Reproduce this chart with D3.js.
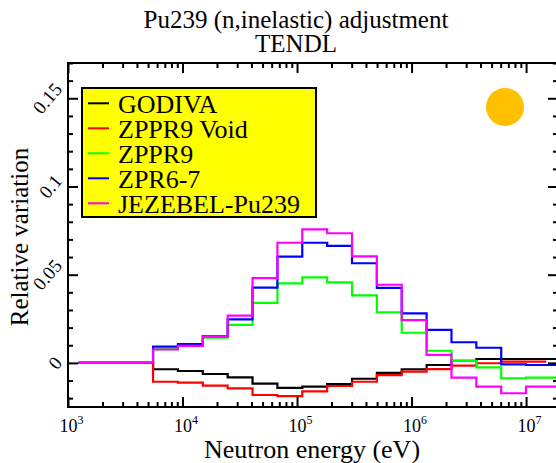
<!DOCTYPE html>
<html>
<head>
<meta charset="utf-8">
<script src="https://cdn.jsdelivr.net/npm/d3@7"></script>
<style>
  body { margin: 0; background: #fff; }
</style>
</head>
<body>
<div id="chart"></div>
<script>
// group boundaries (eV), 33-group lethargy grid, low to high
const bounds = [1234.1, 2034.7, 3354.6, 5530.8, 9118.8, 15034, 24788, 40868, 67379,
    111090, 183160, 301970, 497870, 820850, 1353400, 2231300, 3678800, 6065300, 1.0e7, 1.964e7]

// relative variation per group (first three groups are zero)
const godiva = [0, 0, 0, -0.0036, -0.0046, -0.0063, -0.0082, -0.0117, -0.0142, -0.0135, -0.012,
    -0.009, -0.0057, -0.0036, -0.0012, 0.0012, 0.0022, 0.0022, 0.0022]
const zppr9Void = [0, 0, 0, -0.0107, -0.0112, -0.0129, -0.0144, -0.0182, -0.0188, -0.0161, -0.0131,
    -0.0107, -0.0069, -0.005, -0.0035, -0.0016, -0.0002, 0.0007, 0.0007]
const zppr9 = [0, 0, 0, 0.0078, 0.0098, 0.0143, 0.0215, 0.034, 0.0451, 0.0485, 0.0457,
    0.0383, 0.0287, 0.0171, 0.0069, 0.0011, -0.0025, -0.0087, -0.0084]
const zpr67 = [0, 0, 0, 0.0092, 0.0107, 0.0152, 0.0247, 0.0427, 0.0602, 0.0681, 0.0663,
    0.0565, 0.0425, 0.0281, 0.0187, 0.0117, 0.0086, -0.0008, -0.0012]
const jezebel = [0, 0, 0, 0.0076, 0.0096, 0.015, 0.0268, 0.048, 0.0681, 0.0757, 0.0735,
    0.0604, 0.0443, 0.0243, 0.0045, -0.0084, -0.0135, -0.0172, -0.0135]

const seriesNames = ["GODIVA", "ZPPR9 Void", "ZPPR9", "ZPR6-7", "JEZEBEL-Pu239"]
const seriesColors = ["#000000", "#ff0000", "#00ff00", "#0000ff", "#ff00ff"]
const seriesValues = [godiva, zppr9Void, zppr9, zpr67, jezebel]
// the ZPPR9 Void curve stops short of the last boundary
const seriesEnd = [1.964e7, 1.5e7, 1.964e7, 1.964e7, 1.964e7]

const xMajor = [1e3, 1e4, 1e5, 1e6, 1e7]
const yMajor = [0, 0.05, 0.1, 0.15]
const yLabels = ["0", "0.05", "0.1", "0.15"]

const W = 556, H = 463
const plot = { left: 68, right: 558, top: 63, bottom: 407 }
const serif = '"Liberation Serif"'

const svg = d3.select("#chart").append("svg")
    .attr("width", W)
    .attr("height", H)

// every label goes through this so the serif face sticks
const addText = (parent, str, size) => parent.append("text")
    .style("font-family", serif)
    .style("font-size", size + "px")
    .attr("fill", "#000")
    .text(str)

const x = d3.scaleLog().domain([1e3, 1.9e7]).range([plot.left, plot.right])
const y = d3.scaleLinear().domain([-0.025, 0.17]).range([plot.bottom, plot.top])

// minor ticks 2..9 per decade
const xMinor = []
for (let d = 3; d <= 7; d++) {
    for (let m = 2; m <= 9; m++) {
        const v = m * Math.pow(10, d)
        if (v < 1.9e7) xMinor.push(v)
    }
}
const yMinor = d3.range(-20, 171, 10).map(v => v / 1000).filter(v => !yMajor.some(m => Math.abs(m - v) < 1e-9))

svg.append("clipPath").attr("id", "clip")
    .append("rect")
    .attr("x", plot.left).attr("y", plot.top)
    .attr("width", plot.right - plot.left).attr("height", plot.bottom - plot.top)

// step lines
const stepLine = d3.line().x(d => x(d[0])).y(d => y(d[1]))

seriesValues.forEach((vals, i) => {
    const pts = []
    vals.forEach((v, g) => {
        const hi = Math.min(bounds[g + 1], seriesEnd[i])
        pts.push([bounds[g], v])
        pts.push([hi, v])
    })
    svg.append("path")
        .datum(pts)
        .attr("clip-path", "url(#clip)")
        .attr("fill", "none")
        .attr("stroke", seriesColors[i])
        .attr("stroke-width", 2.2)
        .attr("d", stepLine)
})

// axes: ticks inside on all four sides
function tickAxis(axisFn, scale, values, size, transform) {
    const g = svg.append("g")
        .attr("transform", transform)
        .call(axisFn(scale).tickValues(values).tickSize(-size).tickFormat(""))
    g.select(".domain").remove()
    g.selectAll("text").remove()
    g.selectAll("line").attr("stroke", "#000").attr("stroke-width", 2)
    return g
}

const xb = tickAxis(d3.axisBottom, x, xMajor, 10, `translate(0,${plot.bottom})`)
tickAxis(d3.axisBottom, x, xMinor, 5, `translate(0,${plot.bottom})`)
tickAxis(d3.axisTop, x, xMajor, 10, `translate(0,${plot.top})`)
tickAxis(d3.axisTop, x, xMinor, 5, `translate(0,${plot.top})`)
tickAxis(d3.axisLeft, y, yMajor, 10, `translate(${plot.left},0)`)
tickAxis(d3.axisLeft, y, yMinor, 5, `translate(${plot.left},0)`)
tickAxis(d3.axisRight, y, yMajor, 10, `translate(${plot.right},0)`)
tickAxis(d3.axisRight, y, yMinor, 5, `translate(${plot.right},0)`)

// frame
svg.append("rect")
    .attr("x", plot.left).attr("y", plot.top)
    .attr("width", plot.right - plot.left).attr("height", plot.bottom - plot.top)
    .attr("fill", "none").attr("stroke", "#000").attr("stroke-width", 2)

// x tick labels 10^n
xb.selectAll(".tick").each(function (d) {
    const t = addText(d3.select(this), null, 18)
        .attr("y", 25)
        .attr("dx", 3)
        .attr("text-anchor", "middle")
    t.append("tspan").text("10")
    t.append("tspan").attr("dy", -8).style("font-size", "12px").text(Math.round(Math.log10(d)))
})

// y tick labels, rotated
const angle = 50
yMajor.forEach((v, i) => {
    const t = addText(svg, yLabels[i], 19)
        .attr("text-anchor", "middle")
        .attr("dominant-baseline", "central")
    const L = t.node().getComputedTextLength()
    const a = angle * Math.PI / 180
    const halfW = (L * Math.cos(a) + 13 * Math.sin(a)) / 2
    const cx = 63 - halfW, cy = y(v)
    t.attr("x", cx).attr("y", cy).attr("transform", `rotate(${-angle},${cx},${cy})`)
})

// titles
addText(svg, "Pu239 (n,inelastic) adjustment", 25)
    .attr("x", 296).attr("y", 28).attr("text-anchor", "middle")
addText(svg, "TENDL", 25)
    .attr("x", 296).attr("y", 52).attr("text-anchor", "middle")

addText(svg, "Neutron energy (eV)", 26)
    .attr("x", 312).attr("y", 458).attr("text-anchor", "middle")
addText(svg, "Relative variation", 25)
    .attr("transform", "translate(28,237) rotate(-90)").attr("text-anchor", "middle")

// legend
const legend = svg.append("g")
legend.append("rect")
    .attr("x", 82).attr("y", 88).attr("width", 234).attr("height", 129)
    .attr("fill", "#ffff00").attr("stroke", "#000").attr("stroke-width", 2)
seriesNames.forEach((name, i) => {
    const ry = 103.3 + 25 * i
    legend.append("line")
        .attr("x1", 88).attr("x2", 109).attr("y1", ry).attr("y2", ry)
        .attr("stroke", seriesColors[i]).attr("stroke-width", 2)
    addText(legend, name, 26).attr("x", 118).attr("y", ry + 9.5)
})

// orange marker
svg.append("circle").attr("cx", 505).attr("cy", 107).attr("r", 19).attr("fill", "#ffc000")
</script>
</body>
</html>
